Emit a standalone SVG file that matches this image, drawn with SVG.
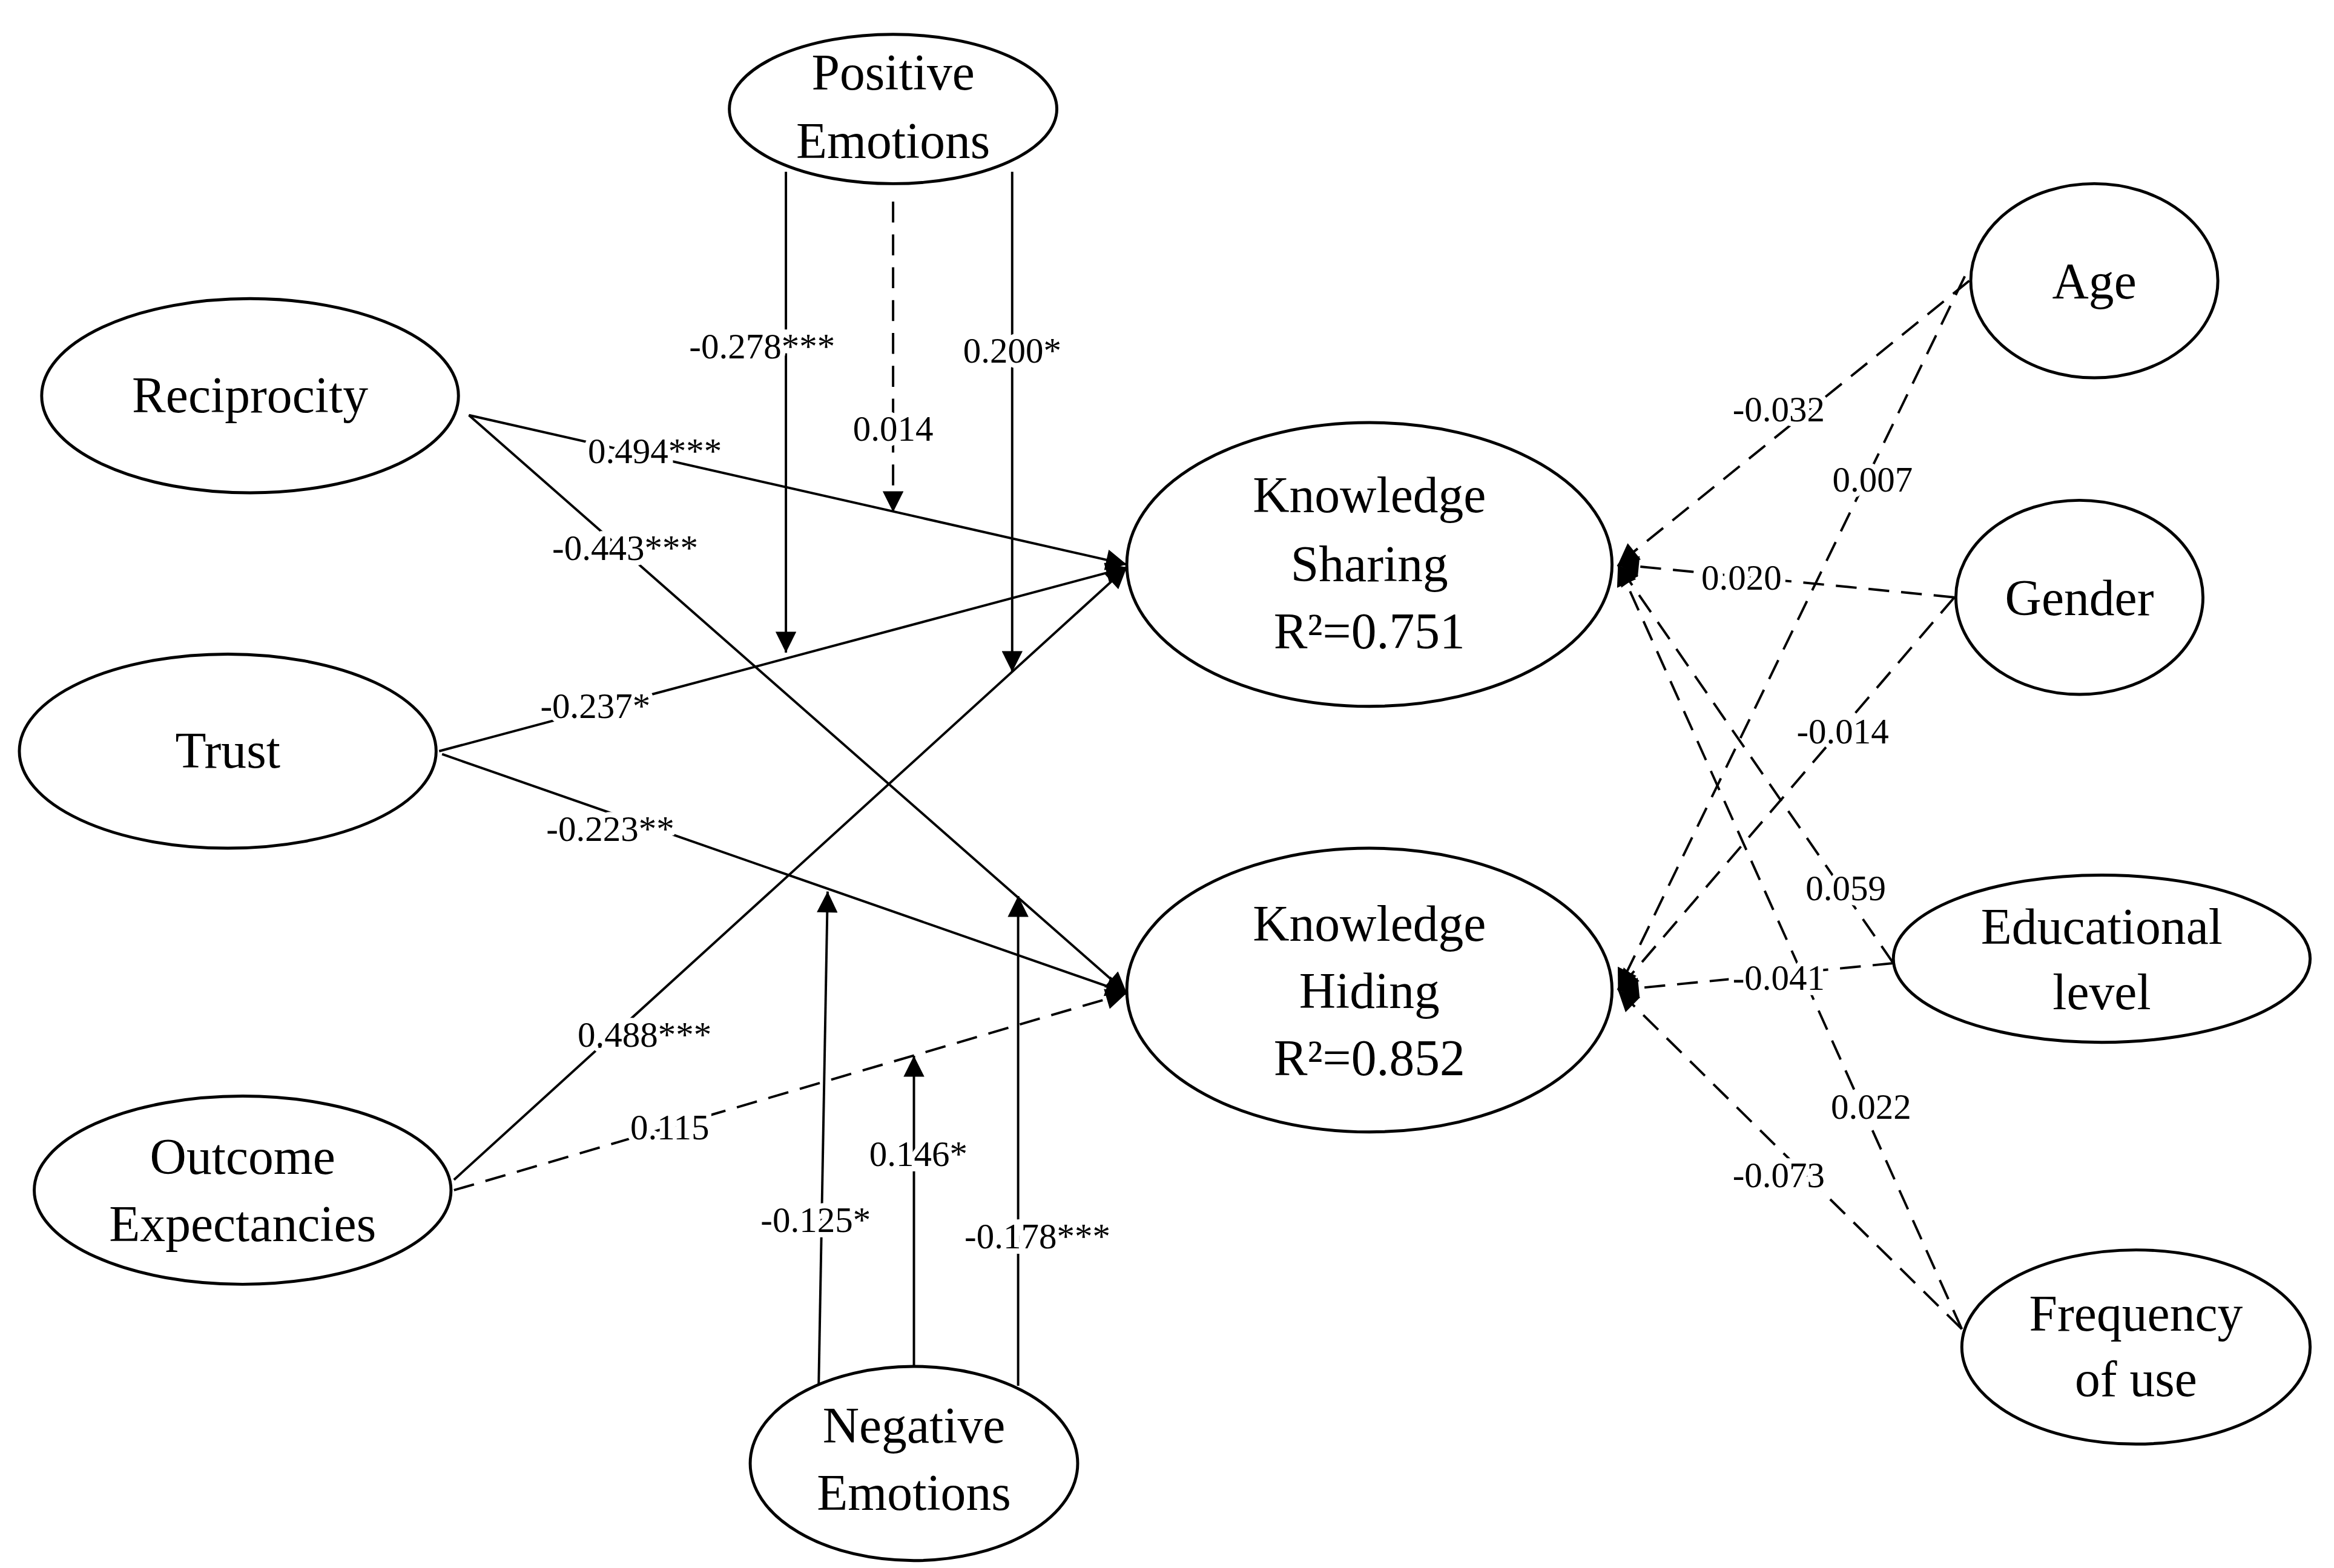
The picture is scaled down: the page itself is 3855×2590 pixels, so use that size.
<svg xmlns="http://www.w3.org/2000/svg" width="3855" height="2590" viewBox="0 0 3855 2590">
<defs>
<marker id="ah" viewBox="0 0 10 10" refX="10" refY="5" markerWidth="16" markerHeight="14" markerUnits="userSpaceOnUse" orient="auto"><path d="M0,0 L10,5 L0,10 z" fill="#000"/></marker>
</defs>
<style>
.n{fill:#fff;stroke:#000;stroke-width:2}
.t{font-family:"Liberation Serif",serif;font-size:34px;text-anchor:middle;fill:#000}
.l{font-family:"Liberation Serif",serif;font-size:24px;text-anchor:middle;fill:#000;stroke:#fff;stroke-width:7px;paint-order:stroke}
.s{stroke:#000;stroke-width:1.6;fill:none}
.d{stroke:#000;stroke-width:1.6;fill:none;stroke-dasharray:14,8}
</style>
<rect width="3855" height="2590" fill="#fff"/>
<g transform="scale(2.4585 2.4667)">
<g id="connectors">
<line class="s" x1="315" y1="278" x2="757" y2="378" marker-end="url(#ah)"/>
<line class="s" x1="315" y1="278" x2="757" y2="665" marker-end="url(#ah)"/>
<line class="s" x1="295" y1="503" x2="757" y2="380" marker-end="url(#ah)"/>
<line class="s" x1="297" y1="505" x2="757" y2="665" marker-end="url(#ah)"/>
<line class="s" x1="305" y1="790" x2="757" y2="380" marker-end="url(#ah)"/>
<line class="d" x1="305" y1="797" x2="757" y2="665" marker-end="url(#ah)"/>
<line class="s" x1="528" y1="115" x2="528" y2="437" marker-end="url(#ah)"/>
<line class="d" x1="600" y1="135" x2="600" y2="343" marker-end="url(#ah)"/>
<line class="s" x1="680" y1="115" x2="680" y2="450" marker-end="url(#ah)"/>
<line class="s" x1="550" y1="928" x2="556" y2="597" marker-end="url(#ah)"/>
<line class="s" x1="614" y1="915" x2="614" y2="707" marker-end="url(#ah)"/>
<line class="s" x1="684" y1="928" x2="684" y2="600" marker-end="url(#ah)"/>
<line class="d" x1="1323" y1="188" x2="1087" y2="378" marker-end="url(#ah)"/>
<line class="d" x1="1320" y1="185" x2="1087" y2="663" marker-end="url(#ah)"/>
<line class="d" x1="1313" y1="400" x2="1087" y2="378" marker-end="url(#ah)"/>
<line class="d" x1="1313" y1="400" x2="1087" y2="663" marker-end="url(#ah)"/>
<line class="d" x1="1272" y1="645" x2="1087" y2="378" marker-end="url(#ah)"/>
<line class="d" x1="1272" y1="645" x2="1087" y2="663" marker-end="url(#ah)"/>
<line class="d" x1="1318" y1="890" x2="1087" y2="378" marker-end="url(#ah)"/>
<line class="d" x1="1318" y1="890" x2="1087" y2="663" marker-end="url(#ah)"/>
</g>
<g id="labels">
<text class="l" x="440" y="310">0.494***</text>
<text class="l" x="420" y="375">-0.443***</text>
<text class="l" x="400" y="481">-0.237*</text>
<text class="l" x="410" y="563">-0.223**</text>
<text class="l" x="433" y="701">0.488***</text>
<text class="l" x="450" y="763">0.115</text>
<text class="l" x="512" y="240">-0.278***</text>
<text class="l" x="600" y="295">0.014</text>
<text class="l" x="680" y="243">0.200*</text>
<text class="l" x="548" y="825">-0.125*</text>
<text class="l" x="617" y="781">0.146*</text>
<text class="l" x="697" y="836">-0.178***</text>
<text class="l" x="1195" y="282">-0.032</text>
<text class="l" x="1258" y="329">0.007</text>
<text class="l" x="1170" y="395">0.020</text>
<text class="l" x="1238" y="498">-0.014</text>
<text class="l" x="1240" y="603">0.059</text>
<text class="l" x="1195" y="663">-0.041</text>
<text class="l" x="1257" y="749">0.022</text>
<text class="l" x="1195" y="795">-0.073</text>
</g>
<g id="pe"><ellipse class="n" cx="600" cy="73" rx="110" ry="50"/><text class="t" x="600" y="60">Positive</text><text class="t" x="600" y="106">Emotions</text></g>
<g id="rec"><ellipse class="n" cx="168" cy="265" rx="140" ry="65"/><text class="t" x="168" y="276">Reciprocity</text></g>
<g id="trust"><ellipse class="n" cx="153" cy="503" rx="140" ry="65"/><text class="t" x="153" y="514">Trust</text></g>
<g id="oe"><ellipse class="n" cx="163" cy="797" rx="140" ry="63"/><text class="t" x="163" y="786">Outcome</text><text class="t" x="163" y="831">Expectancies</text></g>
<g id="ne"><ellipse class="n" cx="614" cy="980" rx="110" ry="65"/><text class="t" x="614" y="966">Negative</text><text class="t" x="614" y="1011">Emotions</text></g>
<g id="ks"><ellipse class="n" cx="920" cy="378" rx="163" ry="95"/><text class="t" x="920" y="343">Knowledge</text><text class="t" x="920" y="389">Sharing</text><text class="t" x="920" y="434">R²=0.751</text></g>
<g id="kh"><ellipse class="n" cx="920" cy="663" rx="163" ry="95"/><text class="t" x="920" y="630">Knowledge</text><text class="t" x="920" y="675">Hiding</text><text class="t" x="920" y="720">R²=0.852</text></g>
<g id="age"><ellipse class="n" cx="1407" cy="188" rx="83" ry="65"/><text class="t" x="1407" y="200">Age</text></g>
<g id="gender"><ellipse class="n" cx="1397" cy="400" rx="83" ry="65"/><text class="t" x="1397" y="412">Gender</text></g>
<g id="edu"><ellipse class="n" cx="1412" cy="642" rx="140" ry="56"/><text class="t" x="1412" y="632">Educational</text><text class="t" x="1412" y="676">level</text></g>
<g id="freq"><ellipse class="n" cx="1435" cy="902" rx="117" ry="65"/><text class="t" x="1435" y="891">Frequency</text><text class="t" x="1435" y="935">of use</text></g>
</g>
</svg>
